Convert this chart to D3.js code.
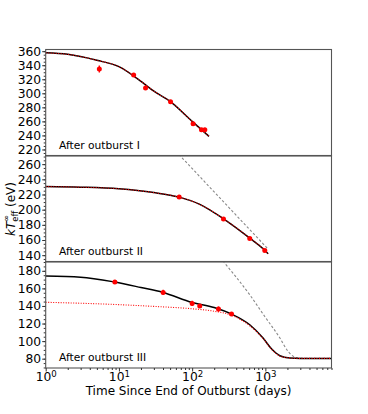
<!DOCTYPE html>
<html>
<meta charset="utf-8">
<style>
  body { margin: 0; background: #fff; }
  text { font-family: "DejaVu Sans", sans-serif; }
</style>
<body>
<div id="viz"></div>
<script src="https://d3js.org/d3.v7.min.js"></script>
<script>
// observed points (days, kT in eV, error)
var obs1Days = [5.4, 15.9, 23.1, 50.7, 103, 134, 149];
var obs1Temp = [334.7, 326, 307.6, 288, 256.7, 248, 248];
var obs1Err  = [5, 2, 2, 2, 2, 2, 2];

var obs2Days = [66.5, 268, 612, 982];
var obs2Temp = [216.7, 187.6, 162, 146.2];
var obs2Err  = [1.5, 1.5, 1.5, 1.5];

var obs3Days = [8.8, 40.2, 100, 127, 229, 345];
var obs3Temp = [167.2, 155.4, 142.9, 140, 136.5, 130.8];
var obs3Err  = [1.5, 3, 3, 1.5, 3, 1.5];

// model curves
var fit1Days = [1, 2, 5, 10, 20, 30, 50, 100, 170];
var fit1Temp = [357.6, 355.5, 347, 338, 317, 303, 288.6, 260, 238.6];

var fit2Days = [1, 3, 10, 30, 66, 127, 268, 612, 982, 1090];
var fit2Temp = [230.4, 229.6, 227.5, 222.5, 216.5, 207, 188, 162.5, 146.5, 142];
var dash2Days = [60, 200, 1090];
var dash2Temp = [277, 223.4, 148];

var fit3Days = [1, 3, 8.8, 20, 40, 100, 200, 345, 612, 930, 1220, 1580, 2150, 3000, 8000];
var fit3Temp = [174, 172.8, 167.2, 161, 155.4, 144, 138.3, 130.8, 118.6, 103.5, 91, 83.4, 80.8, 80.3, 80.3];
var red3Days = [1, 10, 30, 100, 200, 345, 612, 930, 1220, 1580, 2150, 3000, 8000];
var red3Temp = [144.2, 141.5, 139.5, 136.8, 134, 129.5, 117.5, 103, 90.5, 83, 80.8, 80.3, 80.3];
var dash3Days = [240, 612, 982, 1580, 2040, 2420, 2850, 4000, 8000];
var dash3Temp = [195, 152.7, 128, 103.5, 88.3, 82.6, 80.8, 80.3, 80.3];

var panelLabels = ["After outburst I", "After outburst II", "After outburst III"];
var yDomains = [[210.7, 362.4], [131, 271.4], [69.4, 190.6]];
var yTicks = [d3.range(220, 361, 20), d3.range(140, 261, 20), d3.range(80, 181, 20)];
var xTicks = [1, 10, 100, 1000];

var svg = d3.select("#viz").append("svg")
  .attr("width", 368).attr("height", 414);

var left = 45.7, right = 331.5;
var tops = [49.5, 155.5, 261.5], ph = 106.5;

var x = d3.scaleLog().domain([1, 8000]).range([left, right]);

function zip(a, b) { return a.map(function(d, i) { return [d, b[i]]; }); }

var panels = [
  {obs: [obs1Days, obs1Temp, obs1Err], fit: zip(fit1Days, fit1Temp), red: zip(fit1Days, fit1Temp), dash: null},
  {obs: [obs2Days, obs2Temp, obs2Err], fit: zip(fit2Days, fit2Temp), red: zip(fit2Days, fit2Temp), dash: zip(dash2Days, dash2Temp)},
  {obs: [obs3Days, obs3Temp, obs3Err], fit: zip(fit3Days, fit3Temp), red: zip(red3Days, red3Temp), dash: zip(dash3Days, dash3Temp)}
];

panels.forEach(function(p, i) {
  var top = tops[i], bot = top + ph;
  var y = d3.scaleLinear().domain(yDomains[i]).range([bot, top]);
  var g = svg.append("g");

  svg.append("clipPath").attr("id", "clip" + i)
    .append("rect").attr("x", left).attr("y", top).attr("width", right - left).attr("height", ph);
  var plot = g.append("g").attr("clip-path", "url(#clip" + i + ")");

  var line = d3.line().x(function(d) { return x(d[0]); }).y(function(d) { return y(d[1]); })
    .curve(d3.curveMonotoneX);

  if (p.dash) {
    plot.append("path").attr("d", line(p.dash)).attr("fill", "none")
      .attr("stroke", "#888").attr("stroke-width", 1.1).attr("stroke-dasharray", "2.5,2");
  }
  plot.append("path").attr("d", line(p.fit)).attr("fill", "none")
    .attr("stroke", "#000").attr("stroke-width", 1.5);
  plot.append("path").attr("d", line(p.red)).attr("fill", "none")
    .attr("stroke", "red").attr("stroke-width", 1.1).attr("stroke-dasharray", "1,1.5");

  var days = p.obs[0], temp = p.obs[1], err = p.obs[2];
  plot.selectAll(".eb").data(days).enter().append("line")
    .attr("x1", function(d) { return x(d); }).attr("x2", function(d) { return x(d); })
    .attr("y1", function(d, j) { return y(temp[j] - err[j]); })
    .attr("y2", function(d, j) { return y(temp[j] + err[j]); })
    .attr("stroke", "red").attr("stroke-width", 1.4);
  plot.selectAll("circle").data(days).enter().append("circle")
    .attr("cx", function(d) { return x(d); })
    .attr("cy", function(d, j) { return y(temp[j]); })
    .attr("r", 2.5).attr("fill", "red");

  // y axis
  var minor = d3.range(Math.ceil(yDomains[i][0] / 5) * 5, yDomains[i][1], 5);
  g.append("g").attr("transform", "translate(" + left + ",0)")
    .call(d3.axisLeft(y).tickValues(minor).tickSize(2).tickFormat(""))
    .call(function(a) { a.select(".domain").remove(); a.selectAll("line").attr("stroke", "#333"); });
  g.append("g").attr("transform", "translate(" + left + ",0)")
    .call(d3.axisLeft(y).tickValues(yTicks[i]).tickSize(3.5).tickPadding(1))
    .call(function(a) {
      a.select(".domain").remove();
      a.selectAll("line").attr("stroke", "#333");
      a.selectAll("text").attr("font-size", "12.3px").attr("font-family", "DejaVu Sans").attr("fill", "#000");
    });

  g.append("text").attr("x", 59).attr("y", bot - 7.5)
    .attr("font-size", "10.7px").text(panelLabels[i]);

  g.append("rect").attr("x", left).attr("y", top).attr("width", right - left).attr("height", ph)
    .attr("fill", "none").attr("stroke", "#555").attr("stroke-width", 1.1);
});

// x axis on bottom panel
var bottom = tops[2] + ph;
var minorX = [];
[1, 10, 100, 1000].forEach(function(dec) {
  d3.range(2, 10).forEach(function(k) { if (dec * k <= 8000) minorX.push(dec * k); });
});
svg.append("g").attr("transform", "translate(0," + bottom + ")")
  .call(d3.axisBottom(x).tickValues(minorX).tickSize(2).tickFormat(""))
  .call(function(a) { a.select(".domain").remove(); a.selectAll("line").attr("stroke", "#333"); });
var xa = svg.append("g").attr("transform", "translate(0," + bottom + ")")
  .call(d3.axisBottom(x).tickValues(xTicks).tickSize(3.5).tickPadding(1))
  .call(function(a) { a.select(".domain").remove(); a.selectAll("line").attr("stroke", "#333"); });
xa.selectAll("text").each(function(d) {
  var t = d3.select(this).text("").attr("font-size", "12.3px").attr("fill", "#000")
    .attr("font-family", "DejaVu Sans");
  t.append("tspan").text("10");
  t.append("tspan").attr("dy", "-0.45em").attr("font-size", "8.6px").text(Math.round(Math.log10(d)));
});

svg.append("text").attr("x", 188.6).attr("y", 395)
  .attr("text-anchor", "middle").attr("font-size", "12px")
  .text("Time Since End of Outburst (days)");

// y label
var yl = svg.append("text").attr("transform", "translate(14.5,209) rotate(-90)")
  .attr("text-anchor", "middle").attr("font-size", "12px");
yl.append("tspan").attr("font-style", "italic").text("kT");
yl.append("tspan").attr("font-size", "8.4px").attr("dy", "3").text("eff");
yl.append("tspan").attr("font-size", "8.4px").attr("dx", "-11").attr("dy", "-9").text("\u221E");
yl.append("tspan").attr("dy", "6").attr("dx", "4").text(" (eV)");
</script>
</body>
</html>
